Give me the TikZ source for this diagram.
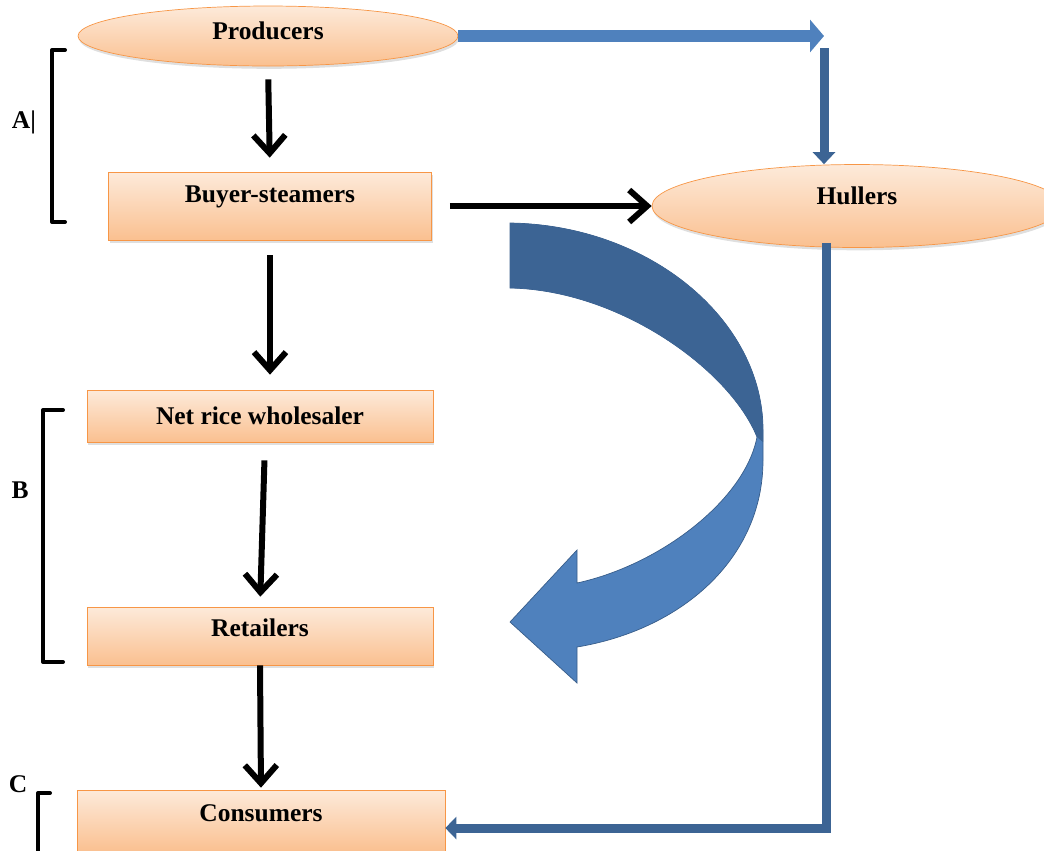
\documentclass[tikz,border=0pt]{standalone}
\usepackage{fontspec}
\setmainfont{Liberation Serif}
\usetikzlibrary{shapes.geometric,arrows.meta,shadows}
\definecolor{boxtop}{HTML}{FDEADA}
\definecolor{boxbot}{HTML}{FAC090}
\definecolor{boxline}{HTML}{F79646}
\definecolor{bluelight}{HTML}{4F81BD}
\definecolor{bluedark}{HTML}{3C6494}
\definecolor{blueline}{HTML}{385D8A}
\begin{document}
\begin{tikzpicture}[x=.02cm, y=-.02cm, font=\fontsize{14.5}{17}\selectfont\bfseries,
    agent/.style={draw=boxline, thin, top color=boxtop, bottom color=boxbot,
        drop shadow={shadow xshift=.6pt, shadow yshift=-1.6pt, opacity=.25}},
    flow/.style={line width=.12cm, -{Straight Barb[length=.36cm, width=.64cm]}},
    link/.style={line width=.24cm, draw=bluelight, -{Triangle[length=.28cm, width=.64cm]}},
    vlink/.style={line width=.18cm, draw=bluedark, -{Triangle[length=.24cm, width=.44cm]}},
    bracket/.style={line width=.08cm, line cap=round, line join=round}]
    \useasboundingbox (0,0) rectangle (1044,850);
    \clip (0,0) rectangle (1044,850);
    % nodes
    \node[agent, ellipse, minimum width=7.6cm, minimum height=1.2cm, text depth=6pt] (prod) at (268,36) {Producers};
    \node[agent, minimum width=6.46cm, minimum height=1.36cm, text depth=14pt] (buyer) at (270,206) {Buyer-steamers};
    \node[agent, minimum width=6.92cm, minimum height=1.04cm] (net) at (260,416) {Net rice wholesaler};
    \node[agent, minimum width=6.92cm, minimum height=1.16cm, text depth=9pt] (ret) at (260,636) {Retailers};
    \node[agent, minimum width=7.36cm, minimum height=1.24cm, text depth=9pt] (cons) at (261,821) {Consumers};
    \node[agent, ellipse, minimum width=8.2cm, minimum height=1.66cm, text depth=12pt] (hull) at (857,206) {Hullers};
    % black flows
    \draw[flow, shorten <=.26cm, shorten >=.28cm] (prod.south) -- (buyer.north);
    \draw[flow, shorten <=.36cm] (buyer.east) -- (hull.west);
    \draw[flow, shorten <=.3cm, shorten >=.3cm] (buyer.south) -- (buyer.south |- net.north);
    \draw[flow, shorten <=.36cm, shorten >=.2cm] ([xshift=.1cm]net.south) -- (ret.north);
    \draw[flow, shorten >=.04cm] (ret.south) -- (cons.north);
    % blue links
    \coordinate (topcorner) at (824,38);
    \coordinate (botcorner) at (826,828);
    \draw[link] (prod.east) -- (prod.east -| topcorner);
    \draw[vlink] ([yshift=-.2cm]topcorner) -- (topcorner |- hull.north);
    \draw[vlink, -{Triangle[length=.22cm, width=.44cm]}] ([yshift=.1cm]botcorner |- hull.south) -- (botcorner) -- (botcorner -| cons.east);
    % big curved arrow
    \draw[blueline, fill=bluelight] (510,223) .. controls (650,225) and (763,320) .. (763,430) -- (763,460)
        .. controls (763,560) and (680,630) .. (577,647) -- (577,683) -- (510,622) -- (577,550) -- (577,583)
        .. controls (660,565) and (745,500) .. (757,437) .. controls (730,370) and (620,290) .. (510,288) -- cycle;
    \fill[bluedark] (510,223) .. controls (650,225) and (763,320) .. (763,430) -- (763,442) -- (757,437)
        .. controls (730,370) and (620,290) .. (510,288) -- cycle;
    % brackets
    \draw[bracket] (65,50) -- (52,50) -- (52,222) -- (65,222);
    \draw[bracket] (63,410) -- (43,410) -- (43,662) -- (63,662);
    \draw[bracket] (50,793) -- (38,793) -- (38,860);
    \node (la) at (24,122) {A|};
    \node (lb) at (20,490) {B};
    \node (lc) at (18,784) {C};
\end{tikzpicture}
\end{document}
